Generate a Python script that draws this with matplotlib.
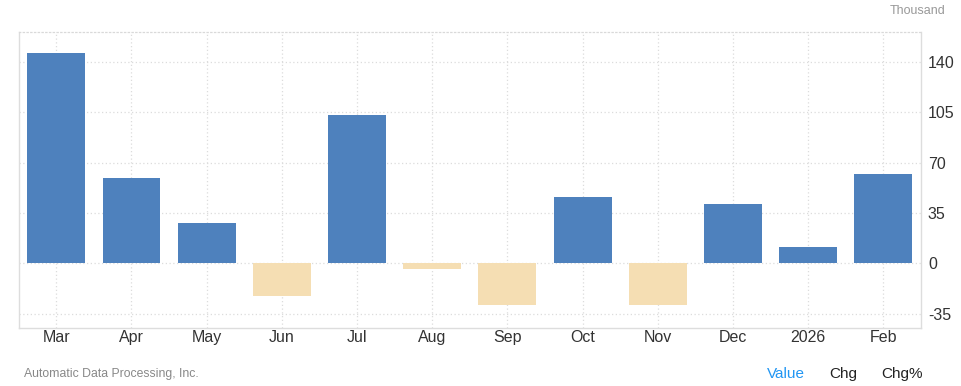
import matplotlib
matplotlib.use("Agg")
import matplotlib.pyplot as plt

plt.rcParams['font.family'] = ['Liberation Sans', 'DejaVu Sans']

months = ["Mar", "Apr", "May", "Jun", "Jul", "Aug", "Sep", "Oct", "Nov", "Dec", "2026", "Feb"]
values = [146, 59, 28, -23, 103, -4, -29, 46, -29, 41, 11, 62]
yticks = [-35, 0, 35, 70, 105, 140]

pos_color = "#4e81bd"
neg_color = "#f5deb3"

fig = plt.figure(figsize=(9.62, 3.86), dpi=100)
ax = fig.add_axes([18.7/962, 1-327.7/386, (921-18.7)/962, (327.7-32.3)/386])

x = list(range(len(months)))
colors = [pos_color if v >= 0 else neg_color for v in values]
ax.bar(x, values, width=0.77, color=colors, zorder=3)

ax.set_xlim(-0.5, 11.5)
ax.set_ylim(-44.7, 160.4)
ax.set_xticks(x)
ax.set_xticklabels(months, fontsize=11.5, color="#333333")
ax.set_yticks(yticks)
ax.set_yticklabels([str(t) for t in yticks], fontsize=11.5, color="#333333")
ax.yaxis.tick_right()
ax.tick_params(axis='both', length=0)
ax.tick_params(axis='y', pad=5)
ax.tick_params(axis='x', pad=2)

ax.grid(True, linestyle=(0, (1, 2)), color="#dcdcdc", linewidth=0.9, zorder=0)
for s in ["left", "right", "bottom"]:
    ax.spines[s].set_color("#dddddd")
    ax.spines[s].set_linewidth(1.0)
ax.spines["top"].set_color("#d9d9d9")
ax.spines["top"].set_linestyle((0, (1, 2)))
ax.spines["top"].set_linewidth(0.9)

fig.text(945.7/962, 1-11.5/386, "Thousand", ha="right", va="center", fontsize=9, color="#999999")
fig.text(24/962, 1-374.3/386, "Automatic Data Processing, Inc.", ha="left", va="center", fontsize=8.8, color="#888888")
fig.text(785.7/962, 1-374.3/386, "Value", ha="center", va="center", fontsize=11, color="#2196f3")
fig.text(843.3/962, 1-374.3/386, "Chg", ha="center", va="center", fontsize=11, color="#222222")
fig.text(901.7/962, 1-374.3/386, "Chg%", ha="center", va="center", fontsize=11, color="#222222")

fig.savefig("out.png", dpi=100)
